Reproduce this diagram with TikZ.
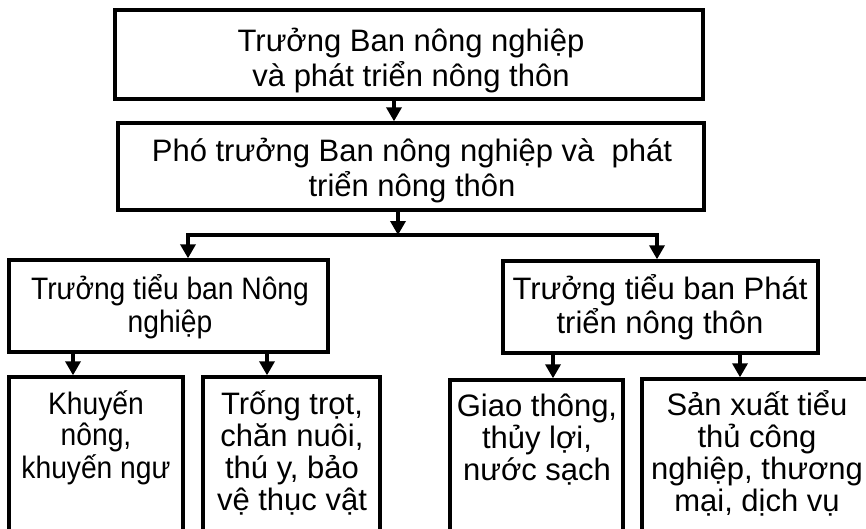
\documentclass[tikz,border=0pt]{standalone}
\usepackage{fontspec}
\setmainfont{Liberation Sans}
\newfontfamily\mynarrow{Liberation Sans}[FakeStretch=0.91]
\usetikzlibrary{arrows.meta}
\newcommand\mytlns[1]{\begin{tabular}[t]{@{}c@{}}#1\end{tabular}}
\begin{document}
\begin{tikzpicture}[x=1pt,y=-1pt,
  box/.style={draw, line width=3.4pt, inner sep=0pt},
  txt/.style={inner sep=0pt, font=\fontsize{31}{31}\selectfont, anchor=base},
  toptxt/.style={inner sep=0pt, font=\fontsize{31}{33}\selectfont, anchor=base},
  conn/.style={line width=3.4pt, -{Triangle[width=15pt,length=14pt]}},
  barline/.style={line width=3.4pt, line cap=rect}]
\clip (0,0) rectangle (866,529);
\fill[white] (0,0) rectangle (866,529);
\node[box, minimum width=588pt, minimum height=89pt] (b1) at (409,54.5) {};
\node[box, minimum width=586pt, minimum height=87pt] (b2) at (411,166.5) {};
\node[box, minimum width=319pt, minimum height=92pt] (b3) at (168.5,306) {};
\node[box, minimum width=315pt, minimum height=92pt] (b4) at (660.5,307) {};
\node[box, minimum width=174pt, minimum height=163pt] (b5) at (96,458.5) {};
\node[box, minimum width=177pt, minimum height=163pt] (b6) at (291.5,458.5) {};
\node[box, minimum width=173pt, minimum height=160pt] (b7) at (536.5,460) {};
\node[box, minimum width=238pt, minimum height=161pt] (b8) at (761,459.5) {};
\node[toptxt] (t1) at (411,51.5) {\mytlns{Trưởng Ban nông nghiệp\\và phát triển nông thôn}};
\node[toptxt] (t2) at (412,162) {\mytlns{Phó trưởng Ban nông nghiệp và~ phát\\triển nông thôn}};
\node[toptxt, font=\mynarrow\fontsize{31}{33}\selectfont] (t3) at (170,299) {\mytlns{Trưởng tiểu ban Nông\\nghiệp}};
\node[toptxt] (t4) at (660,299) {\mytlns{Trưởng tiểu ban Phát\\triển nông thôn}};
\node[txt, font=\mynarrow\fontsize{31}{31}\selectfont] (t5) at (96,414) {\mytlns{Khuyến\\nông,\\khuyến ngư}};
\node[txt] (t6) at (292,414) {\mytlns{Trống trọt,\\chăn nuôi,\\thú y, bảo\\vệ thục vật}};
\node[txt] (t7) at (537,416) {\mytlns{Giao thông,\\thủy lợi,\\nước sạch}};
\node[txt] (t8) at (757,415) {\mytlns{Sản xuất tiểu\\thủ công\\nghiệp, thương\\mại, dịch vụ}};
\coordinate (a1) at (394,0);
\draw[conn] (b1.south -| a1) -- (b2.north -| a1);
\coordinate (bar) at (398,235);
\coordinate (L) at (188,235);
\coordinate (R) at (657,235);
\draw[barline] (L) -- (R);
\draw[conn] (b2.south -| bar) -- (bar);
\draw[conn] (L) -- (L |- b3.north);
\draw[conn] (R) -- (R |- b4.north);
\coordinate (x5) at (73,0);
\coordinate (x6) at (267,0);
\coordinate (x7) at (553,0);
\coordinate (x8) at (740,0);
\draw[conn] (b3.south -| x5) -- (b5.north -| x5);
\draw[conn] (b3.south -| x6) -- (b6.north -| x6);
\draw[conn] (b4.south -| x7) -- (b7.north -| x7);
\draw[conn] (b4.south -| x8) -- (b8.north -| x8);
\end{tikzpicture}
\end{document}
